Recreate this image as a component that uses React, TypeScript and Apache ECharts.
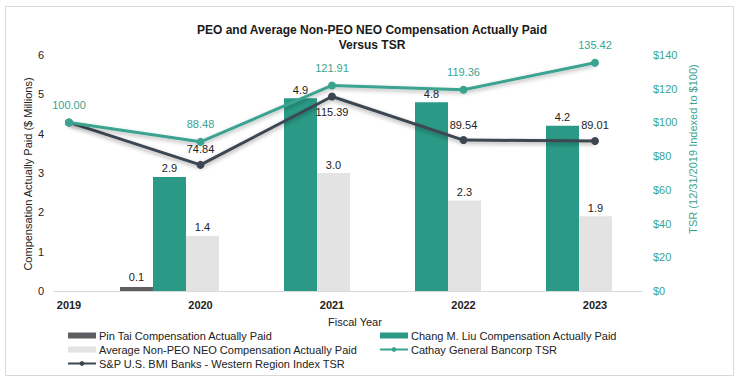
import React, { useEffect, useRef } from "react";
import * as echarts from "echarts";

const barYears = ["2020", "2021", "2022", "2023"];
const lineYears = ["2019", "2020", "2021", "2022", "2023"];
const pinTai = [0.1, null, null, null];
const changLiu = [2.9, 4.9, 4.8, 4.2];
const avgNonPeo = [1.4, 3.0, 2.3, 1.9];
const cathayTsr = [100.0, 88.48, 121.91, 119.36, 135.42];
const spTsr = [100.0, 74.84, 115.39, 89.54, 89.01];
const leftTicks = [0, 6, 1];
const rightTicks = [0, 140, 20];

const TEAL_BAR = "#2a9a86";
const TEAL_LINE = "#3aa390";
const DARK_LINE = "#3c4651";
const PIN_GRAY = "#5f5f63";
const LIGHT_GRAY = "#e3e3e3";
const FONT = "Liberation Sans, Arial, sans-serif";

export default function App() {
  const ref = useRef<HTMLDivElement>(null);
  useEffect(() => {
    if (!ref.current) return;
    const chart = echarts.init(ref.current, undefined, { renderer: "svg" });
    const top = 55;
    const bottom = 94;
    const spLabelPos = ["top", "top", "bottom", "top", "top"];
    const legendText = { fontSize: 11, color: "#222", fontFamily: FONT, padding: [0, 0, 0, -2] };
    const option: any = {
      animation: false,
      backgroundColor: "#ffffff",
      textStyle: { fontFamily: FONT },
      title: {
        text: "PEO and Average Non-PEO NEO Compensation Actually Paid\nVersus TSR",
        left: "center",
        top: 17,
        textStyle: { fontSize: 12, fontWeight: "bold", color: "#1a1a1a", lineHeight: 15, fontFamily: FONT },
      },
      graphic: [
        {
          type: "rect",
          shape: { x: 5.5, y: 6.5, width: 728, height: 369 },
          style: { fill: "none", stroke: "#d9d9d9", lineWidth: 1 },
          silent: true,
        },
        {
          type: "text",
          x: 28,
          y: 174,
          rotation: Math.PI / 2,
          style: {
            text: "Compensation Actually Paid ($ Millions)",
            fill: "#222",
            fontSize: 11,
            fontFamily: FONT,
            align: "center",
            verticalAlign: "middle",
          },
        },
        {
          type: "text",
          x: 693,
          y: 149,
          rotation: Math.PI / 2,
          style: {
            text: "TSR (12/31/2019 Indexed to $100)",
            fill: TEAL_LINE,
            fontSize: 11,
            fontFamily: FONT,
            align: "center",
            verticalAlign: "middle",
          },
        },
      ],
      legend: [
        {
          orient: "vertical",
          left: 62,
          top: 325,
          itemWidth: 28,
          itemHeight: 6,
          itemGap: 3,
          textStyle: legendText,
          data: [
            { name: "Pin Tai Compensation Actually Paid", icon: "rect" },
            { name: "Average Non-PEO NEO Compensation Actually Paid", icon: "rect" },
            { name: "S&P U.S. BMI Banks - Western Region Index TSR" },
          ],
        },
        {
          orient: "vertical",
          left: 374,
          top: 325,
          itemWidth: 28,
          itemHeight: 6,
          itemGap: 3,
          textStyle: legendText,
          data: [
            { name: "Chang M. Liu Compensation Actually Paid", icon: "rect" },
            { name: "Cathay General Bancorp TSR" },
          ],
        },
      ],
      grid: [
        { left: 54, right: 102, top, bottom, containLabel: false },
        { left: 104, right: 116, top, bottom, containLabel: false },
        { left: 69, right: 149, top, bottom, containLabel: false },
      ],
      xAxis: [
        {
          gridIndex: 0,
          type: "category",
          data: [""],
          axisLine: { show: true, lineStyle: { color: "#d9d9d9" } },
          axisTick: { show: false },
          axisLabel: { show: false },
          name: "Fiscal Year",
          nameLocation: "middle",
          nameGap: 25,
          nameTextStyle: { fontSize: 11, color: "#222", fontFamily: FONT, padding: [0, 0, 0, 14] },
        },
        {
          gridIndex: 1,
          type: "category",
          data: barYears,
          show: false,
        },
        {
          gridIndex: 2,
          type: "category",
          data: lineYears,
          boundaryGap: false,
          axisLine: { show: false },
          axisTick: { show: false },
          axisLabel: { fontSize: 11, fontWeight: "bold", color: "#222", margin: 8, fontFamily: FONT },
        },
      ],
      yAxis: [
        {
          gridIndex: 0,
          type: "value",
          min: leftTicks[0],
          max: leftTicks[1],
          interval: leftTicks[2],
          splitLine: { show: false },
          axisLine: { show: false },
          axisTick: { show: false },
          axisLabel: { fontSize: 11, color: "#222", margin: 10, fontFamily: FONT },
        },
        {
          gridIndex: 0,
          type: "value",
          position: "right",
          min: rightTicks[0],
          max: rightTicks[1],
          interval: rightTicks[2],
          splitLine: { show: false },
          axisLine: { show: false },
          axisTick: { show: false },
          axisLabel: { fontSize: 11, color: TEAL_LINE, margin: 11, formatter: "${value}", fontFamily: FONT },
        },
        { gridIndex: 1, type: "value", min: leftTicks[0], max: leftTicks[1], show: false },
        { gridIndex: 2, type: "value", min: rightTicks[0], max: rightTicks[1], show: false },
      ],
      series: [
        {
          name: "Pin Tai Compensation Actually Paid",
          type: "bar",
          xAxisIndex: 1,
          yAxisIndex: 2,
          data: pinTai,
          barWidth: 33,
          barGap: "0%",
          itemStyle: { color: PIN_GRAY },
          label: { show: true, position: "top", fontSize: 11, color: "#222", distance: 5, formatter: (p: any) => p.value.toFixed(1) },
        },
        {
          name: "Chang M. Liu Compensation Actually Paid",
          type: "bar",
          xAxisIndex: 1,
          yAxisIndex: 2,
          data: changLiu,
          barWidth: 33,
          barGap: "0%",
          itemStyle: { color: TEAL_BAR },
          label: { show: true, position: "top", fontSize: 11, color: "#222", distance: 3, formatter: (p: any) => p.value.toFixed(1) },
        },
        {
          name: "Average Non-PEO NEO Compensation Actually Paid",
          type: "bar",
          xAxisIndex: 1,
          yAxisIndex: 2,
          data: avgNonPeo,
          barWidth: 33,
          barGap: "0%",
          itemStyle: { color: LIGHT_GRAY },
          label: { show: true, position: "top", fontSize: 11, color: "#222", distance: 3, formatter: (p: any) => p.value.toFixed(1) },
        },
        {
          name: "S&P U.S. BMI Banks - Western Region Index TSR",
          type: "line",
          xAxisIndex: 2,
          yAxisIndex: 3,
          data: spTsr.map((v, i) => ({
            value: v,
            label: { show: i > 0, position: spLabelPos[i] as any },
          })),
          symbol: "circle",
          symbolSize: 8,
          lineStyle: { color: DARK_LINE, width: 3, shadowColor: "rgba(0,0,0,0.35)", shadowBlur: 4, shadowOffsetY: 2 },
          itemStyle: { color: DARK_LINE },
          label: { fontSize: 11, color: "#222", distance: 6, formatter: (p: any) => p.value.toFixed(2) },
          z: 3,
        },
        {
          name: "Cathay General Bancorp TSR",
          type: "line",
          xAxisIndex: 2,
          yAxisIndex: 3,
          data: cathayTsr,
          symbol: "circle",
          symbolSize: 8,
          lineStyle: { color: TEAL_LINE, width: 3, shadowColor: "rgba(0,0,0,0.3)", shadowBlur: 4, shadowOffsetY: 2 },
          itemStyle: { color: TEAL_LINE },
          label: { show: true, position: "top", fontSize: 11, color: TEAL_LINE, distance: 8, formatter: (p: any) => p.value.toFixed(2) },
          z: 4,
        },
      ],
    };
    chart.setOption(option);
    return () => chart.dispose();
  }, []);
  return (
    <div
      ref={ref}
      style={{ position: "absolute", left: 0, top: 0, width: 744, height: 385 }}
    />
  );
}
